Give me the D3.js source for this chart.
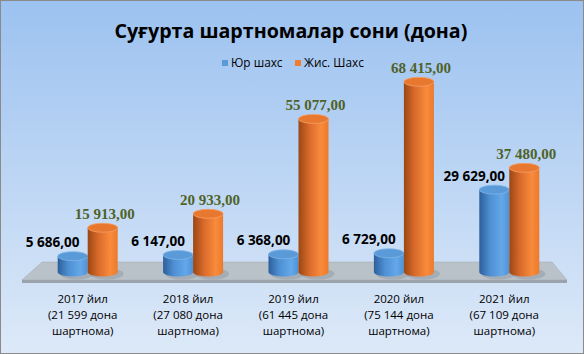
<!DOCTYPE html>
<html>
<head>
<meta charset="utf-8">
<script src="https://cdn.jsdelivr.net/npm/d3@7"></script>
<style>
  html, body { margin: 0; padding: 0; background: #fff; }
  svg { display: block; }
</style>
</head>
<body>
<div id="chart"></div>
<script>
// data
var years = ["2017 йил", "2018 йил", "2019 йил", "2020 йил", "2021 йил"];
var contractTotals = ["21 599", "27 080", "61 445", "75 144", "67 109"];
var seriesNames = ["Юр шахс", "Жис. Шахс"];
var yurShakhs = [5686, 6147, 6368, 6729, 29629];
var jisShakhs = [15913, 20933, 55077, 68415, 37480];

var W = 584, H = 354;

var locale = d3.formatLocale({decimal: ",", thousands: " ", grouping: [3], currency: ["", ""]});
var fmt = locale.format(",.2f");

var svg = d3.select("#chart").append("svg")
    .attr("width", W)
    .attr("height", H);

var defs = svg.append("defs");

// background gradient
var bg = defs.append("linearGradient").attr("id", "bg")
    .attr("x1", 0).attr("y1", 0).attr("x2", 0).attr("y2", 1);
bg.append("stop").attr("offset", "0%").attr("stop-color", "#9cc2f0");
bg.append("stop").attr("offset", "100%").attr("stop-color", "#dde9f8");

// cylinder side shading
function sideGrad(id, c0, c1, c2, c3) {
    var g = defs.append("linearGradient").attr("id", id)
        .attr("x1", 0).attr("y1", 0).attr("x2", 1).attr("y2", 0);
    g.append("stop").attr("offset", "0%").attr("stop-color", c0);
    g.append("stop").attr("offset", "35%").attr("stop-color", c1);
    g.append("stop").attr("offset", "75%").attr("stop-color", c2);
    g.append("stop").attr("offset", "100%").attr("stop-color", c3);
}
sideGrad("blueSide", "#2c5f9a", "#4d8fd2", "#64a8ea", "#4f91d6");
sideGrad("orangeSide", "#9a4714", "#d8692a", "#f98b3c", "#ec7a2c");

var topFill = {yur: "#5b9ad8", jis: "#e8782f"};
var topStroke = {yur: "#7fb5e8", jis: "#f4a068"};
var sideFill = {yur: "url(#blueSide)", jis: "url(#orangeSide)"};
var legendFill = {yur: "#5b9bd5", jis: "#ed7d31"};

svg.append("rect")
    .attr("x", 0.5).attr("y", 0.5)
    .attr("width", W - 1).attr("height", H - 1)
    .attr("fill", "url(#bg)")
    .attr("stroke", "#8a8a8a")
    .attr("stroke-width", 1);

// title, sized to the width it has in the picture
var title = svg.append("text")
    .attr("x", 291).attr("y", 38)
    .attr("text-anchor", "middle")
    .style("font-family", "'Open Sans', sans-serif")
    .style("font-weight", "bold")
    .style("font-size", "22px")
    .attr("fill", "#000")
    .text("Суғурта шартномалар сони (дона)");
var tl = title.node().getComputedTextLength();
title.style("font-size", (22 * 353 / tl) + "px");

// scales
var x = d3.scaleBand()
    .domain(years)
    .range([35, 562])
    .padding(0);

var xs = d3.scaleBand()
    .domain(["yur", "jis"])
    .range([-30, 30]);

var y = d3.scaleLinear()
    .domain([0, 80000])
    .range([272, 49.6]);

var rx = xs.bandwidth() / 2, ry = 4.5;

// floor
var x0 = x.range()[0], x1 = x.range()[1], base = y(0);
var floor = svg.append("g").attr("class", "floor");
floor.append("path")
    .attr("d", "M" + (x0 + 7) + "," + (base - 10) +
               "L" + (x1 - 10) + "," + (base - 10) +
               "L" + (x1 + 5) + "," + (base + 8) +
               "L" + (x0 - 13) + "," + (base + 8) + "Z")
    .attr("fill", "#b9c1c9")
    .attr("stroke", "#a7afb7")
    .attr("stroke-width", 0.6);
floor.append("path")
    .attr("d", "M" + (x0 - 13) + "," + (base + 8) +
               "L" + (x1 + 5) + "," + (base + 8) +
               "L" + (x1 + 5) + "," + (base + 11) +
               "L" + (x0 - 13) + "," + (base + 11) + "Z")
    .attr("fill", "#9aa2aa");

// build rows for the cylinders
var rows = [];
years.forEach(function(yr, i) {
    rows.push({cat: yr, key: "yur", value: yurShakhs[i]});
    rows.push({cat: yr, key: "jis", value: jisShakhs[i]});
});

function cx(d) { return x(d.cat) + x.bandwidth() / 2 + xs(d.key) + rx; }

// soft shadows on floor
svg.append("g").selectAll("ellipse")
    .data(rows)
    .enter().append("ellipse")
    .attr("cx", function(d) { return cx(d) + 4; })
    .attr("cy", base + 2)
    .attr("rx", rx + 2)
    .attr("ry", ry + 1)
    .attr("fill", "#7d868f")
    .attr("opacity", 0.35);

var bars = svg.append("g").attr("class", "bars")
    .selectAll("g")
    .data(rows)
    .enter().append("g");

bars.append("path")
    .attr("d", function(d) {
        var c = cx(d), t = y(d.value);
        return "M" + (c - rx) + "," + t +
               "L" + (c - rx) + "," + base +
               "A" + rx + "," + ry + " 0 0 0 " + (c + rx) + "," + base +
               "L" + (c + rx) + "," + t + "Z";
    })
    .attr("fill", function(d) { return sideFill[d.key]; });

bars.append("ellipse")
    .attr("cx", cx)
    .attr("cy", function(d) { return y(d.value); })
    .attr("rx", rx)
    .attr("ry", ry)
    .attr("fill", function(d) { return topFill[d.key]; })
    .attr("stroke", function(d) { return topStroke[d.key]; })
    .attr("stroke-width", 0.8);

// value labels
svg.append("g").selectAll("text")
    .data(rows)
    .enter().append("text")
    .attr("x", function(d) { return d.key === "yur" ? cx(d) - 20 : cx(d) + 2; })
    .attr("y", function(d) { return y(d.value) - 9; })
    .attr("text-anchor", "middle")
    .style("font-family", function(d) { return d.key === "yur" ? "'Open Sans', sans-serif" : "'Liberation Serif', 'Times New Roman', serif"; })
    .style("font-weight", "bold")
    .style("font-size", function(d) { return d.key === "yur" ? "13.5px" : "15px"; })
    .attr("fill", function(d) { return d.key === "yur" ? "#000" : "#4f6228"; })
    .text(function(d) { return fmt(d.value); });

// category labels
var cats = svg.append("g").selectAll("text")
    .data(years)
    .enter().append("text")
    .attr("x", function(d) { return x(d) + x.bandwidth() / 2 - 5; })
    .attr("y", 303)
    .attr("text-anchor", "middle")
    .style("font-family", "'Open Sans', sans-serif")
    .style("font-size", "11.5px")
    .attr("fill", "#000");
cats.append("tspan")
    .attr("x", function(d) { return x(d) + x.bandwidth() / 2 - 5; })
    .text(function(d) { return d; });
cats.append("tspan")
    .attr("x", function(d) { return x(d) + x.bandwidth() / 2 - 5; })
    .attr("dy", 16)
    .text(function(d, i) { return "(" + contractTotals[i] + " дона"; });
cats.append("tspan")
    .attr("x", function(d) { return x(d) + x.bandwidth() / 2 - 5; })
    .attr("dy", 16)
    .text("шартнома)");

// legend
var legend = svg.append("g").attr("class", "legend");
var legendX = [222, 295];
["yur", "jis"].forEach(function(k, i) {
    legend.append("rect")
        .attr("x", legendX[i]).attr("y", 60)
        .attr("width", 6).attr("height", 6)
        .attr("fill", legendFill[k]);
    legend.append("text")
        .attr("x", legendX[i] + 9).attr("y", 67)
        .style("font-family", "'Open Sans', sans-serif")
        .style("font-size", "11.8px")
        .attr("fill", "#000")
        .text(seriesNames[i]);
});
</script>
</body>
</html>
